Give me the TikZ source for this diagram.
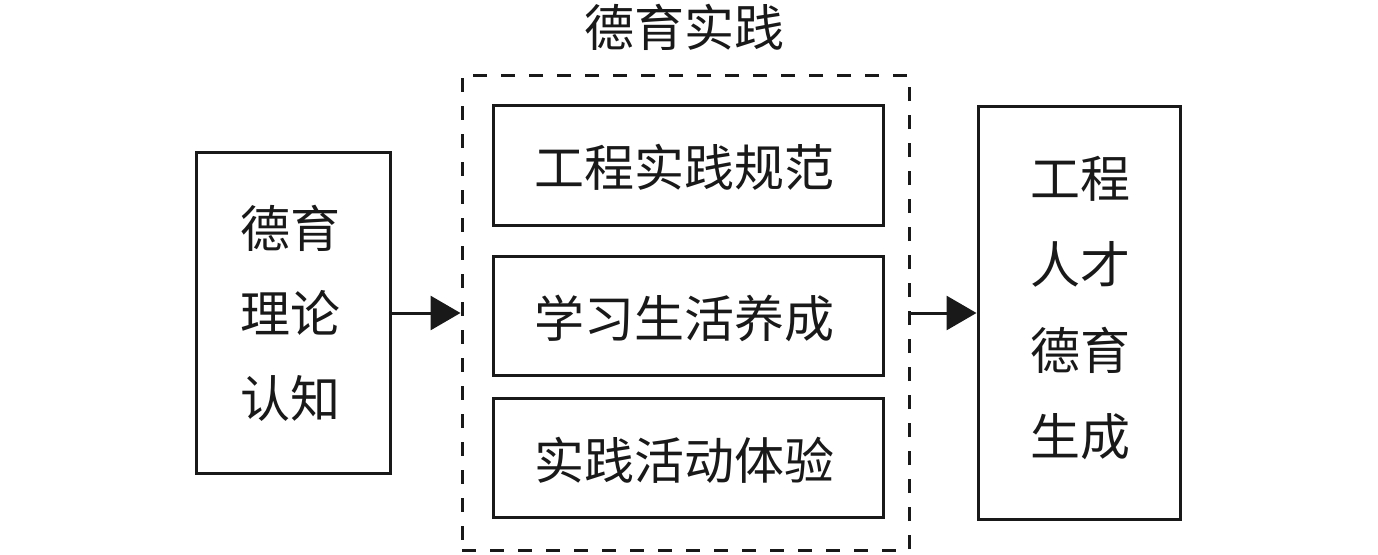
\documentclass[tikz,border=0pt]{standalone}
\usepackage{fontspec}
\newfontfamily\cjk{Noto Sans CJK SC}
\usetikzlibrary{arrows.meta}
\begin{document}
\begin{tikzpicture}[x=1pt,y=-1pt,
  box/.style={draw=black!90, line width=3pt, inner sep=0pt},
  lbl/.style={font=\cjk\fontsize{50}{85}\selectfont, align=center, text=black!90},
  arr/.style={line width=3pt, draw=black!90, -{Triangle[length=30pt,width=34pt]}}]
\useasboundingbox (0,0) rectangle (1378,554);
% title
\node[lbl] (title) at (684,27) {德育实践};
% left box
\node[box, minimum width=194pt, minimum height=321pt] (left) at (293,312.5) {};
\node[lbl] (lefttxt) at (290,313) {德育\\理论\\认知};
% dashed box
\node[box, dash pattern=on 14pt off 14pt, minimum width=447pt, minimum height=475pt] (mid) at (685.5,312.5) {};
% inner boxes
\node[box, minimum width=390pt, minimum height=120pt] (b1) at (688,165) {};
\node[lbl] (t1) at (684,167) {工程实践规范};
\node[box, minimum width=390pt, minimum height=119pt] (b2) at (688,315.5) {};
\node[lbl] (t2) at (684,318) {学习生活养成};
\node[box, minimum width=390pt, minimum height=119pt] (b3) at (688,457.5) {};
\node[lbl] (t3) at (684,460) {实践活动体验};
% right box
\node[box, minimum width=202pt, minimum height=413pt] (right) at (1079,312.5) {};
\node[lbl, font=\cjk\fontsize{50}{86}\selectfont] (righttxt) at (1080,308) {工程\\人才\\德育\\生成};
% arrows
\draw[arr] (left.east |- 0,313) -- (mid.west |- 0,313);
\draw[arr] (mid.east |- 0,313) -- (right.west |- 0,313);
\end{tikzpicture}
\end{document}
